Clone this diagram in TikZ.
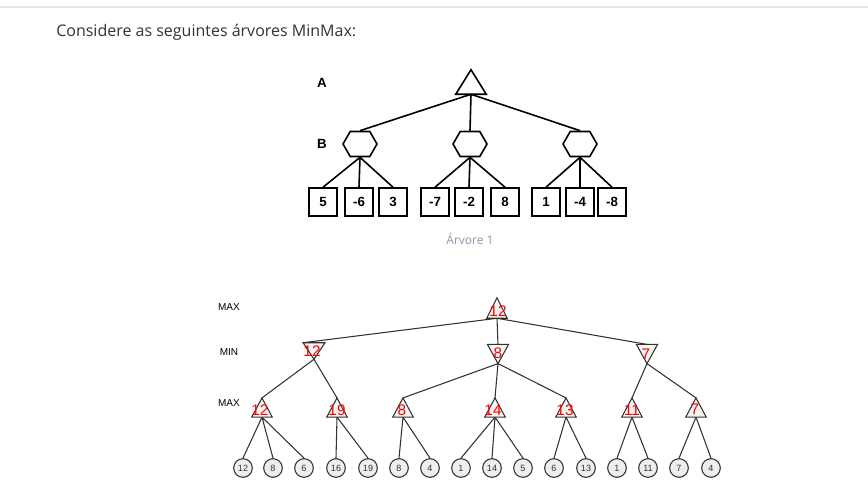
\documentclass[tikz,border=0pt]{standalone}
\usepackage{fontspec}
\setmainfont{Liberation Sans}
\newfontfamily\headfont{Open Sans}
\usetikzlibrary{shapes.symbols}
\definecolor{headgray}{HTML}{333333}
\definecolor{rulegray}{HTML}{E6E6E6}
\definecolor{capblue}{HTML}{8A99AD}
\definecolor{edgegray}{HTML}{333333}
\definecolor{shapefill}{HTML}{F3F3F3}
\definecolor{leaffill}{HTML}{EEEEEE}
\begin{document}
\begin{tikzpicture}[x=0.75pt,y=-0.75pt,
  boxnode/.style={draw=black,line width=1.2pt,minimum width=21pt,minimum height=21pt,inner sep=0pt,font=\bfseries\fontsize{10}{12}\selectfont},
  hexnode/.style={shape=signal,signal to=east and west,signal pointer angle=120,draw=black,line width=1.2pt,minimum width=25.5pt,minimum height=18.8pt,inner sep=0pt},
  edge1/.style={line width=1.2pt,black},
  edge2/.style={line width=0.8pt,edgegray},
  shapeline/.style={draw=edgegray,fill=shapefill,line width=0.8pt,line join=miter},
  leafnode/.style={circle,draw=edgegray,fill=leaffill,line width=0.8pt,minimum size=14pt,inner sep=0pt,text=headgray,font=\fontsize{6.8}{7}\selectfont},
  lvl/.style={font=\fontsize{7.5}{9}\selectfont,text=black},
  redlab/.style={text=red,font=\fontsize{11.5}{12}\selectfont,inner sep=0pt},
  lab1/.style={font=\bfseries\fontsize{10}{12}\selectfont}
]
\useasboundingbox (0,0) rectangle (868,497);
\fill[white] (0,0) rectangle (868,497);
% top rule
\coordinate (ruleL) at (0,7);
\coordinate (ruleR) at (868,7);
\draw[rulegray,line width=0.9pt] (ruleL) -- (ruleR);
% heading
\node[anchor=west,text=headgray,font=\headfont\fontsize{12}{14}\selectfont,inner sep=0pt] (head) at (56,32) {Considere as seguintes árvores MinMax:};

% ---------- Tree 1 ----------
\node[lab1] (labA) at (322,83) {A};
\node[lab1] (labB) at (322,144) {B};
\node[inner sep=0pt,minimum width=22.5pt,minimum height=18pt] (A) at (471,82) {};
\draw[line width=1.2pt,black,fill=white,line join=miter] (A.north) -- (A.south east) -- (A.south west) -- cycle;
\node[hexnode] (B1) at (360,144) {};
\node[hexnode] (B2) at (470,144) {};
\node[hexnode] (B3) at (580,144) {};
\foreach \n/\x/\v in {L1/323/5,L2/359/-6,L3/393/3,L4/435/-7,L5/469/-2,L6/505/8,L7/546/1,L8/580/-4,L9/612/-8}{
  \node[boxnode] (\n) at (\x,202) {\v};
}
\draw[edge1] (A.south) -- (B1.north) (A.south) -- (B2.north) (A.south) -- (B3.north);
\draw[edge1] (B1.south) -- (L1.north) (B1.south) -- (L2.north) (B1.south) -- (L3.north);
\draw[edge1] (B2.south) -- (L4.north) (B2.south) -- (L5.north) (B2.south) -- (L6.north);
\draw[edge1] (B3.south) -- (L7.north) (B3.south) -- (L8.north) (B3.south) -- (L9.north);
\node[text=capblue,font=\headfont\fontsize{9}{11}\selectfont] (cap) at (470,239) {Árvore 1};

% ---------- Tree 2 ----------
\node[lvl] (lmax1) at (229,307) {MAX};
\node[lvl] (lmin) at (229,352) {MIN};
\node[lvl] (lmax2) at (229,403) {MAX};

% root
\node[inner sep=0pt,minimum width=15pt,minimum height=15pt] (R) at (497,308) {};
% MIN nodes
\node[inner sep=0pt,minimum width=16pt,minimum height=12pt] (M1) at (314,351) {};
\node[inner sep=0pt,minimum width=15.5pt,minimum height=14pt] (M2) at (498,354) {};
\node[inner sep=0pt,minimum width=15.5pt,minimum height=14pt] (M3) at (647,354) {};
% MAX nodes
\foreach \n/\x in {X1/262,X2/337,X3/403,X4/495,X5/566,X6/632,X7/696}{
  \node[inner sep=0pt,minimum width=15pt,minimum height=14pt] (\n) at (\x,407.5) {};
}
% leaves
\foreach \n/\x/\v in {T1/243/12,T2/273/8,T3/304/6,T4/336/16,T5/368/19,T6/399/8,T7/430/4,T8/461/1,T9/492/14,T10/523/5,T11/554/6,T12/586/13,T13/617/1,T14/648/11,T15/679/7,T16/711/4}{
  \node[leafnode] (\n) at (\x,468) {\v};
}
% edges
\draw[edge2] (R.south) -- (M1.north west) (R.south) -- (M2.north) (R.south) -- (M3.north);
\draw[edge2] (M1.south) -- (X1.north) (M1.south) -- (X2.north);
\draw[edge2] (M2.south) -- (X3.north) (M2.south) -- (X4.north) (M2.south) -- (X5.north);
\draw[edge2] (M3.south) -- (X6.north) (M3.south) -- (X7.north);
\draw[edge2] (X1.south) -- (T1.north) (X1.south) -- (T2.north) (X1.south) -- (T3.north);
\draw[edge2] (X2.south) -- (T4.north) (X2.south) -- (T5.north);
\draw[edge2] (X3.south) -- (T6.north) (X3.south) -- (T7.north);
\draw[edge2] (X4.south) -- (T8.north) (X4.south) -- (T9.north) (X4.south) -- (T10.north);
\draw[edge2] (X5.south) -- (T11.north) (X5.south) -- (T12.north);
\draw[edge2] (X6.south) -- (T13.north) (X6.south) -- (T14.north);
\draw[edge2] (X7.south) -- (T15.north) (X7.south) -- (T16.north);
% triangles (drawn over edges)
\draw[shapeline] (R.north) -- (R.south east) -- (R.south west) -- cycle;
\foreach \n in {M1,M2,M3}{
  \draw[shapeline] (\n.north west) -- (\n.north east) -- (\n.south) -- cycle;
}
\foreach \n in {X1,X2,X3,X4,X5,X6,X7}{
  \draw[shapeline] (\n.north) -- (\n.south east) -- (\n.south west) -- cycle;
}
% red values
\node[redlab] (vR) at (498,311) {12};
\node[redlab] (vM1) at (312,351) {12};
\node[redlab] (vM2) at (498,353) {8};
\node[redlab] (vM3) at (646,354) {7};
\node[redlab] (vX1) at (260,410) {12};
\node[redlab] (vX2) at (337,410) {19};
\node[redlab] (vX3) at (402,410) {8};
\node[redlab] (vX4) at (493,410) {14};
\node[redlab] (vX5) at (565,410) {13};
\node[redlab] (vX6) at (632,410) {11};
\node[redlab] (vX7) at (695,409) {7};
\end{tikzpicture}
\end{document}
